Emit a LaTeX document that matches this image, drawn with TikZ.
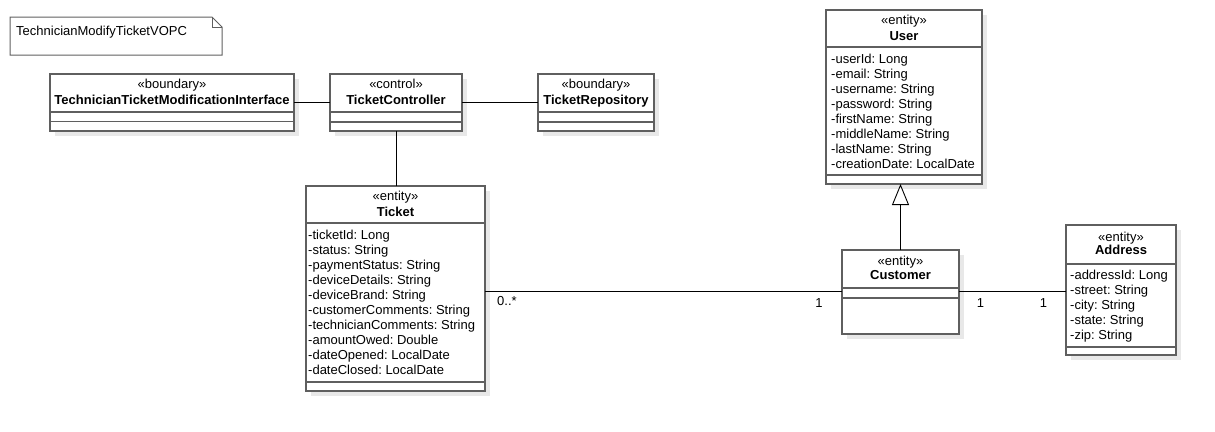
\documentclass[tikz,border=0pt]{standalone}
\usepackage{fontspec}
\setmainfont{Liberation Sans}
\usepackage{tikz}
\usetikzlibrary{arrows.meta}
\usetikzlibrary{shadows}
\usepackage{xcolor}
\definecolor{umlline}{RGB}{95,95,95}
\frenchspacing

\begin{document}
\begin{tikzpicture}[x=1pt,y=-1pt,
  every node/.style={font=\fontsize{13}{15}\selectfont},
  classbox/.style={draw=umlline, line width=1.3pt, fill=white, inner sep=0pt, outer sep=0pt, anchor=north west,
    drop shadow={shadow xshift=5pt, shadow yshift=-5pt, fill=black!9, opacity=1}},
  sep/.style={draw=umlline, line width=1.3pt},
  stereo/.style={anchor=base, inner sep=0pt},
  cname/.style={anchor=base, inner sep=0pt, font=\fontsize{13}{15}\selectfont\bfseries},
  attr/.style={anchor=base west, inner sep=0pt},
  mult/.style={anchor=base, inner sep=0pt},
  assoc/.style={draw=black, line width=0.9pt},
  gen/.style={draw=black, line width=0.9pt, -{Triangle[open, length=21pt, width=17pt, fill=white]}}]
\useasboundingbox (0,0) rectangle (1215,431);

%note
\draw[sep, line width=1pt] (10,17) -- (212,17) -- (222,27) -- (222,55) -- (10,55) -- cycle;
\draw[sep, line width=1pt] (212,17) -- (212,27) -- (222,27);
\node[attr] (vopc) at (16,35.5) {TechnicianModifyTicketVOPC};

%boundary
\node[classbox, minimum width=244pt, minimum height=57pt] (ttmi) at (50,74) {};
\draw[sep] (50,112) -- (294,112);
\draw[sep] (50,121.5) -- (294,121.5);
\node[stereo] (ttmiS) at (172,88) {«boundary»};
\node[cname] (ttmiN) at (172,104) {TechnicianTicketModificationInterface};

%control
\node[classbox, minimum width=132pt, minimum height=57pt] (tc) at (330,74) {};
\draw[sep] (330,112) -- (462,112);
\draw[sep] (330,122) -- (462,122);
\node[stereo] (tcS) at (396,88) {«control»};
\node[cname] (tcN) at (396,104) {TicketController};

%repository
\node[classbox, minimum width=116pt, minimum height=57pt] (tr) at (538,74) {};
\draw[sep] (538,112) -- (654,112);
\draw[sep] (538,122) -- (654,122);
\node[stereo] (trS) at (596,88) {«boundary»};
\node[cname] (trN) at (596,104) {TicketRepository};

%Ticket
\node[classbox, minimum width=179pt, minimum height=205pt] (ticket) at (306,186) {};
\draw[sep] (306,223) -- (485,223);
\draw[sep] (306,382) -- (485,382);
\node[stereo] (ticketS) at (395.5,200) {«entity»};
\node[cname] (ticketN) at (395.5,216) {Ticket};
\foreach \a [count=\i from 0] in {-ticketId: Long, -status: String, -paymentStatus: String,
  -deviceDetails: String, -deviceBrand: String, -customerComments: String,
  -technicianComments: String, -amountOwed: Double, -dateOpened: LocalDate, -dateClosed: LocalDate}
  \node[attr] (ticketA\i) at (308,239.5+15*\i) {\a};

%User
\node[classbox, minimum width=156pt, minimum height=174pt] (user) at (826,10) {};
\draw[sep] (826,47) -- (982,47);
\draw[sep] (826,175) -- (982,175);
\node[stereo] (userS) at (904,24.5) {«entity»};
\node[cname] (userN) at (904,40) {User};
\foreach \a [count=\i from 0] in {-userId: Long, -email: String, -username: String,
  -password: String, -firstName: String, -middleName: String, -lastName: String, -creationDate: LocalDate}
  \node[attr] (userA\i) at (831,63.3+15*\i) {\a};

%Customer
\node[classbox, minimum width=117pt, minimum height=84pt] (cust) at (842,250) {};
\draw[sep] (842,288) -- (959,288);
\draw[sep] (842,298) -- (959,298);
\node[stereo] (custS) at (900.5,265.5) {«entity»};
\node[cname] (custN) at (900.5,279.5) {Customer};

%Address
\node[classbox, minimum width=110pt, minimum height=130pt] (addr) at (1066,225) {};
\draw[sep] (1066,264) -- (1176,264);
\draw[sep] (1066,347) -- (1176,347);
\node[stereo] (addrS) at (1121,241) {«entity»};
\node[cname] (addrN) at (1121,254.5) {Address};
\foreach \a [count=\i from 0] in {-addressId: Long, -street: String, -city: String, -state: String, -zip: String}
  \node[attr] (addrA\i) at (1070,279+15*\i) {\a};

%connectors
\draw[assoc] (ttmi) -- (tc);
\draw[assoc] (tc) -- (tr);
\draw[assoc] (tc.south) -- (tc.south |- ticket.north);
\draw[assoc] ([yshift=1pt]cust.west) -- ([yshift=1pt]cust.west -| ticket.east);
\draw[assoc] ([yshift=1pt]cust.east) -- ([yshift=1pt]cust.east -| addr.west);
\draw[gen] (cust.north) -- (cust.north |- user.south);

%multiplicities
\node[attr] (m1) at (497,305.5) {0..*};
\node[mult] (m2) at (819,307) {1};
\node[mult] (m3) at (980.5,307) {1};
\node[mult] (m4) at (1043.5,307) {1};

\end{tikzpicture}
\end{document}
